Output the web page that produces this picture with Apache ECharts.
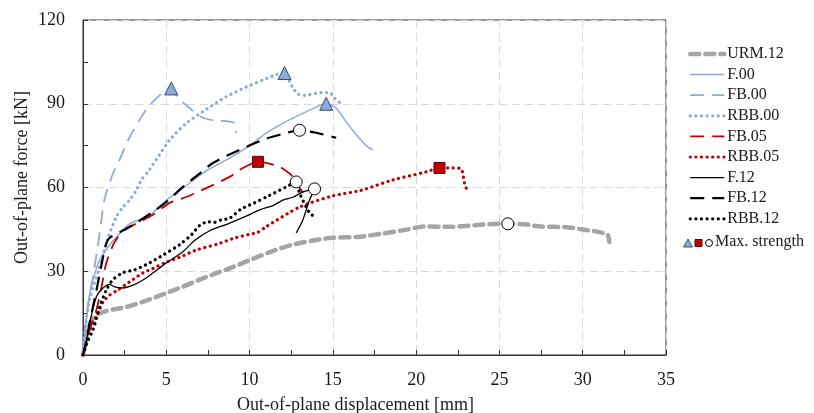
<!DOCTYPE html>
<html>
<head>
<meta charset="utf-8">
<script src="https://cdn.jsdelivr.net/npm/echarts@6/dist/echarts.min.js"></script>
<style>
  html, body { margin: 0; padding: 0; background: #fff; }
  #chart { width: 814px; height: 413px; }
</style>
</head>
<body>
<div id="chart"></div>
<script>
// Force–displacement curves: [displacement mm, force kN]
const URM12 = [[0,0],[0.3,9],[0.6,13],[1,15],[1.8,16.3],[2.6,17.2],[3.8,19.5],[5,22.2],[6,24.5],[7,27],[8,29.3],[9,31.5],[10.2,34.5],[11.5,37.5],[12.5,39.4],[13.8,41],[15,42],[16.5,42.3],[18,43.5],[19.5,45],[20.5,46],[22,45.9],[23.5,46.5],[25,47],[25.5,47],[26.5,46.8],[27.5,46],[29,45.8],[30.2,44.8],[31,44],[31.5,43],[31.6,40.5]];
const F00 = [[0,0],[0.15,10],[0.4,22],[0.7,29],[1,34],[1.6,39.4],[2.2,43.5],[2.8,47],[4,50],[5,55.5],[6,59.8],[7.4,66],[8.8,70.5],[10,75],[11,79.5],[12,83],[13,86],[14,88.8],[14.6,90],[15.2,88.5],[15.8,83.5],[16.4,79],[17,75],[17.4,73.5]];
const FB00 = [[0,0],[0.1,8],[0.3,18],[0.6,28],[1,43.5],[1.3,56],[1.8,65],[2.2,70],[2.8,78],[3.8,88],[4.6,93],[5.3,95.5],[5.6,93],[5.8,91.4],[6.4,88.5],[7,85.5],[7.8,84],[8.6,83.8],[9.1,83],[9.2,79.5]];
const RBB00 = [[0,0],[0.15,10],[0.4,20],[1,31.5],[1.5,42],[2,49.5],[2.4,53],[2.8,55.5],[3.2,59],[3.5,62.7],[3.9,65.6],[4.4,70],[5.2,77],[6.2,83],[7.4,88],[8.6,92.5],[9.8,96],[10.8,98.5],[11.6,100.4],[12.1,101],[12.4,98],[12.6,95.7],[12.9,93.5],[13.3,93],[14.3,94],[14.8,94],[15.1,92],[15.5,90]];
const FB05 = [[0,0],[0.2,4],[0.4,9],[0.8,16],[1.1,24],[1.4,33],[1.9,40.5],[2.5,44.8],[3.4,47.7],[4.2,50.2],[5.2,54.5],[6.2,56.6],[7.4,59.8],[8.8,63.8],[9.6,67],[10.5,69.2],[11,68.8],[11.8,67.4],[12.4,65],[12.8,62.7],[13,60],[13.2,58]];
const RBB05 = [[0,0],[0.2,3.6],[0.4,9],[0.8,13.6],[1.2,19],[1.6,21.5],[2.1,23.3],[2.8,26.2],[3.6,29.4],[4.2,31],[4.9,33],[5.8,35],[6.8,37.6],[8.1,39.8],[9.1,41.9],[9.9,43.1],[10.5,44],[11,46],[13,53],[15,57],[16.7,59],[18.6,62.7],[20.6,65.6],[21.4,67],[22.2,67],[22.7,66.7],[22.9,61.6],[23.1,58.4]];
const F12 = [[0,0],[0.2,5],[0.4,11.5],[0.8,20.8],[1.2,24],[1.6,25.3],[1.9,24.4],[2.4,24],[3,25],[3.5,26.5],[4,28.5],[5,33],[6,37],[6.7,41],[7.6,44.5],[8.7,47],[10,50.3],[10.6,52],[11.4,53.5],[12,55.5],[12.6,56.5],[13.2,58.4],[13.9,59.5],[13.6,55.5],[13.4,52],[13.2,48.4],[12.8,43.7]];
const FB12 = [[0,0],[0.2,5],[0.4,11.5],[0.8,23],[1.2,35],[1.4,40],[1.6,42],[2.2,44],[3,46.6],[4.2,51.3],[5,54.8],[6,60.2],[7,65],[7.8,68.8],[9.4,73.5],[11,77.5],[12,79.2],[13,80.5],[14,79.6],[15.2,77.8]];
const RBB12 = [[0,0],[0.2,4],[0.6,9],[1,17.2],[1.4,23.3],[1.8,27],[2.4,29.5],[3.1,30.5],[4,33],[4.8,35.8],[5.8,39.5],[6.5,43],[7,46.4],[7.5,47.7],[7.9,47.5],[8.3,48.4],[8.8,49],[9.5,52.3],[10.3,54.5],[11,56.6],[12.2,60.2],[12.8,62],[13,58],[13.4,53],[13.6,51],[14,49]];

// Maximum strength points
const maxTriangles = [[5.3,95.5],[12.1,101],[14.6,90]];   // FB.00, RBB.00, F.00
const maxSquares = [[10.5,69.2],[21.4,67]];               // FB.05, RBB.05
const maxCircles = [[25.5,47],[13.9,59.5],[13,80.5],[12.8,62]]; // URM.12, F.12, FB.12, RBB.12

// Axis ticks
const xTicks = { min: 0, max: 35, interval: 5 };
const yTicks = { min: 0, max: 120, interval: 30 };

const BLUE = '#8ea9db', RED = '#c00000', BLACK = '#000000', GREY = '#a5a5a5';
const SERIF = '"Liberation Serif", "Times New Roman", serif';
const DOT = [0.1, 5.5];

function curve(name, data, color, width, type, cap) {
  return {
    name, type: 'line', data, showSymbol: false, symbol: 'none', smooth: 0.25,
    lineStyle: { color, width, type, cap: cap || 'butt' },
    itemStyle: { color },
    z: 2, animation: false
  };
}
function marks(name, data, symbol, size, fill, stroke) {
  return {
    name, type: 'scatter', data, symbol, symbolSize: size,
    itemStyle: { color: fill, borderColor: stroke, borderWidth: 1, opacity: 1 },
    z: 5, animation: false
  };
}

const chart = echarts.init(document.getElementById('chart'), null, { renderer: 'canvas' });
const axisText = { fontFamily: SERIF, fontSize: 18, color: '#1a1a1a' };

chart.setOption({
  backgroundColor: '#fff',
  animation: false,
  grid: {
    left: 83, right: 148, top: 20, bottom: 58,
    outerBoundsMode: 'none', containLabel: false,
    show: true, borderColor: '#333', borderWidth: 1
  },
  legend: {
    orient: 'vertical', left: 683, top: 41,
    itemWidth: 34, itemHeight: 14, itemGap: 4.6,
    itemStyle: { opacity: 0 },
    lineStyle: { width: 'inherit' },
    textStyle: { fontFamily: SERIF, fontSize: 16, color: '#1a1a1a', padding: [0, 0, 0, -2] },
    data: ['URM.12','F.00','FB.00','RBB.00','FB.05','RBB.05','F.12','FB.12','RBB.12'],
    selectedMode: false
  },
  xAxis: {
    type: 'value', min: xTicks.min, max: xTicks.max, interval: xTicks.interval,
    name: 'Out-of-plane displacement [mm]', nameLocation: 'middle', nameGap: 41,
    nameMoveOverlap: false,
    nameTextStyle: Object.assign({}, axisText, { padding: [0, 38, 0, 0] }),
    axisLine: { show: true, lineStyle: { color: '#333', width: 1 } },
    axisTick: { show: true, inside: true, length: 5, lineStyle: { color: '#333' } },
    minorTick: { show: true, splitNumber: 2, length: 5, lineStyle: { color: '#333' } },
    axisLabel: Object.assign({}, axisText, { margin: 16 }),
    splitLine: { show: true, lineStyle: { color: '#d9d9d9', type: [8, 5], width: 1 } }
  },
  yAxis: {
    type: 'value', min: yTicks.min, max: yTicks.max, interval: yTicks.interval,
    name: 'Out-of-plane force [kN]', nameLocation: 'middle', nameGap: 52,
    nameMoveOverlap: false,
    nameTextStyle: Object.assign({}, axisText, { padding: [0, 0, 0, 20] }),
    axisLine: { show: true, lineStyle: { color: '#333', width: 1 } },
    axisTick: { show: true, inside: true, length: 5, lineStyle: { color: '#333' } },
    minorTick: { show: true, splitNumber: 2, length: 5, lineStyle: { color: '#333' } },
    axisLabel: Object.assign({}, axisText, { margin: 18 }),
    splitLine: { show: true, lineStyle: { color: '#d9d9d9', type: [8, 5], width: 1 } }
  },
  series: [
    curve('URM.12', URM12, GREY, 4.5, [9, 6], 'round'),
    curve('F.00', F00, BLUE, 1.5, 'solid'),
    curve('FB.00', FB00, BLUE, 1.8, [14, 8]),
    curve('RBB.00', RBB00, BLUE, 3.2, DOT, 'round'),
    curve('FB.05', FB05, RED, 1.8, [14, 8]),
    curve('RBB.05', RBB05, RED, 3.2, DOT, 'round'),
    curve('F.12', F12, BLACK, 1.3, 'solid'),
    curve('FB.12', FB12, BLACK, 2.2, [14, 8]),
    curve('RBB.12', RBB12, BLACK, 3.2, DOT, 'round'),
    marks('Max. strength', maxTriangles, 'triangle', 13, BLUE, '#3b4f73'),
    marks('Max. strength (square)', maxSquares, 'rect', 11, RED, '#5a0000'),
    marks('Max. strength (circle)', maxCircles, 'circle', 12, '#ffffff', '#000000')
  ],
  graphic: [{
    type: 'group', left: 683, top: 234,
    children: [
      { type: 'polygon', shape: { points: [[4, 0], [8.5, 8], [-0.5, 8]] }, style: { fill: BLUE, stroke: '#3b4f73', lineWidth: 1 } },
      { type: 'rect', shape: { x: 11, y: 0.5, width: 7, height: 7 }, style: { fill: RED, stroke: '#5a0000', lineWidth: 1 } },
      { type: 'circle', shape: { cx: 25, cy: 4, r: 3.5 }, style: { fill: '#fff', stroke: '#000', lineWidth: 1 } },
      { type: 'text', x: 31, y: -5, style: { text: 'Max. strength', font: '16px ' + SERIF, fill: '#1a1a1a' } }
    ]
  }]
});
</script>
</body>
</html>
